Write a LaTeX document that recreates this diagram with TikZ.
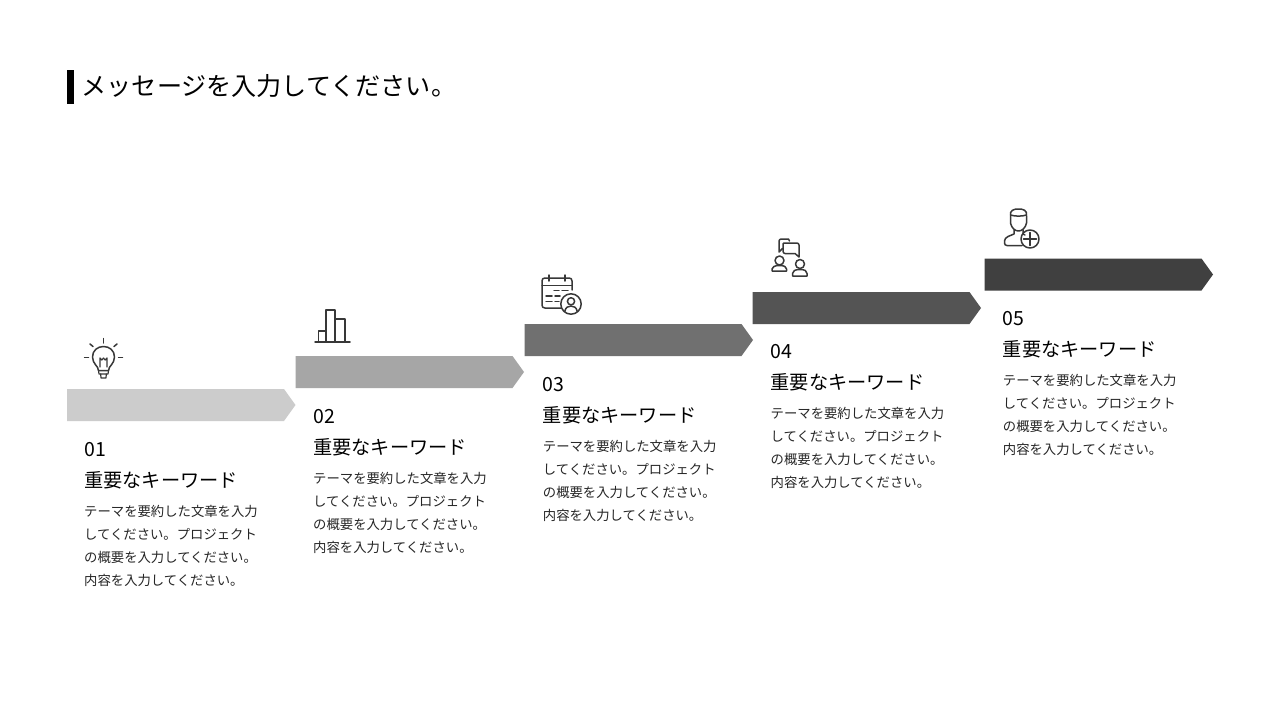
\documentclass[tikz,border=0pt]{standalone}
\usepackage{fontspec}
\setmainfont{Noto Sans CJK JP}[BoldFont={Noto Sans CJK JP}]
\setsansfont{Noto Sans CJK JP}
\tikzset{
  x=1pt,y=-1pt,
  titlebar/.style={fill=black,draw=none},
  titletext/.style={anchor=west,inner sep=0pt,font=\fontsize{25.1}{28}\selectfont,text=black},
  numtext/.style={anchor=west,inner sep=0pt,font=\fontsize{19.5}{22}\selectfont,text=black},
  keytext/.style={anchor=west,inner sep=0pt,font=\fontsize{19.2}{22}\selectfont,text=black},
  bodytext/.style={anchor=north west,inner sep=0pt,align=left,font=\fontsize{13.35}{23}\selectfont,text=black!85},
  iconline/.style={draw=black!78,line width=1.5pt,line join=round,line cap=round,fill=none},
  iconthin/.style={draw=black!78,line width=1.2pt,line join=round,line cap=round,fill=none},
}
\newcommand{\stepblock}[7]{% id, left x, top y, colour, number, reference y, text x
  \fill[#4] (#2,#3) -- ++(217,0) -- ++(11.5,16) -- ++(-11.5,16) -- ++(-217,0) -- cycle;
  \node[numtext] (num#1) at (#7,#6-61.5) {#5};
  \node[keytext] (key#1) at (#7,#6-31) {重要なキーワード};
  \node[bodytext] (body#1) at (#7,#6-6) {テーマを要約した文章を入力\\してください。プロジェクト\\の概要を入力してください。\\内容を入力してください。};
}
\begin{document}
\begin{tikzpicture}
\useasboundingbox (0,0) rectangle (1280,720);
\fill[white] (0,0) rectangle (1280,720);
\fill[titlebar] (67,70) rectangle (74,104);
\node[titletext] (title) at (81.5,86.5) {メッセージを入力してください。};
\stepblock{1}{67}{389}{black!20}{01}{511}{84}
\stepblock{2}{295.5}{356}{black!35}{02}{478}{313}
\stepblock{3}{524.5}{324}{black!56}{03}{446}{542.7}
\stepblock{4}{752.5}{292}{black!67}{04}{413.5}{770.5}
\stepblock{5}{984.5}{258.5}{black!75}{05}{380}{1002.7}
% bulb
\begin{scope}[shift={(103.5,358)}]
  \draw[iconline] (-5,12.5) .. controls (-5,8) and (-11,6) .. (-11,-1) .. controls (-11,-7.5) and (-6,-11.5) .. (0,-11.5) .. controls (6,-11.5) and (11,-7.5) .. (11,-1) .. controls (11,6) and (5,8) .. (5,12.5) -- cycle;
  \draw[iconthin] (-3.5,9) -- (-3.5,0) -- (-1.7,2) -- (0,0) -- (1.7,2) -- (3.5,0) -- (3.5,9);
  \draw[iconthin] (-5,12.5) -- (-4.5,16) -- (4.5,16) -- (5,12.5);
  \draw[iconthin] (-2.8,16) -- (-2.5,20) -- (2.5,20) -- (2.8,16);
  \draw[iconline] (0,-19.5) -- (0,-15);
  \draw[iconline] (-13.5,-14) -- (-10.5,-11.5);
  \draw[iconline] (13.5,-14) -- (10.5,-11.5);
  \draw[iconline] (-19,-0.5) -- (-15,-0.5);
  \draw[iconline] (19,-0.5) -- (15,-0.5);
\end{scope}
% chart
\begin{scope}[shift={(315,342)}]
  \draw[iconline] (0,0) -- (35,0);
  \draw[iconline] (3.5,0) -- (3.5,-11) -- (11,-11) -- (11,0);
  \draw[iconline] (11,-11) -- (11,-17.5);
  \draw[iconline] (11,-17.5) -- (11,-32) -- (20,-32) -- (20,0);
  \draw[iconline] (20,-23) -- (30,-23) -- (30,0);
\end{scope}
% calendar
\begin{scope}[shift={(542,275)}]
  \draw[iconline] (20,33) -- (3,33) .. controls (1,33) and (0,32) .. (0,30) -- (0,6) .. controls (0,4) and (1,3) .. (3,3) -- (27,3) .. controls (29,3) and (30,4) .. (30,6) -- (30,15);
  \draw[iconline] (0,10.5) -- (30,10.5);
  \draw[iconline] (7,0) -- (7,6);
  \draw[iconline] (23,0) -- (23,6);
  \draw[iconline] (12,15.5) -- (17,15.5) (20,15.5) -- (26,15.5);
  \draw[iconline] (4,21) -- (10,21) (13,21) -- (18,21);
  \draw[iconline] (4,26.5) -- (10,26.5) (13,26.5) -- (17,26.5);
  \fill[white] (29,29) circle (10.5);
  \draw[iconline] (29,29) circle (10.2);
  \draw[iconline] (29,26.3) circle (3.6);
  \draw[iconline] (22.7,36.5) .. controls (23.5,32.5) and (26,31) .. (29,31) .. controls (32,31) and (34.5,32.5) .. (35.3,36.5);
\end{scope}
% people and speech bubbles
\begin{scope}[shift={(771,238)}]
  \draw[iconline] (18.5,3) -- (17.5,1) -- (10,1) .. controls (9,1) and (8,2) .. (8,3) -- (8,14) -- (11.5,10.5);
  \draw[iconline] (13,5) -- (26,5) .. controls (27,5) and (28,6) .. (28,7) -- (28,19) -- (24,15.5) -- (14,15.5) .. controls (13,15.5) and (12,14.5) .. (12,13.5) -- (12,6) .. controls (12,5.5) and (12.5,5) .. (13,5) -- cycle;
  \draw[iconline] (8.5,22.5) circle (4.5);
  \draw[iconline] (1,33) -- (1,31) .. controls (1,29) and (3.5,27.5) .. (8.5,27.5) .. controls (13.5,27.5) and (15.5,29) .. (15.5,31) -- (15.5,33) -- cycle;
  \draw[iconline] (29,26) circle (4.5);
  \draw[iconline] (21.5,38) -- (21.5,35.5) .. controls (21.5,33) and (24,31.5) .. (29,31.5) .. controls (34,31.5) and (36,33) .. (36,35.5) -- (36,38) -- cycle;
\end{scope}
% person with plus
\begin{scope}[shift={(1004,208)}]
  \draw[iconline] (6.5,8) .. controls (5.5,2) and (10,1) .. (14.5,1) .. controls (19,1) and (23.5,2) .. (22.5,8) -- (22.5,15) .. controls (21.5,20) and (18,23) .. (14.5,23) .. controls (11,23) and (7.5,20) .. (6.5,15) -- cycle;
  \draw[iconline] (6.5,7) .. controls (11,8.5) and (18,8.5) .. (22.5,7);
  \draw[iconline] (10,22) -- (10,26) -- (4,28.5) .. controls (2,29.5) and (0.5,31) .. (0.5,33) -- (0.5,35) .. controls (0.5,36.5) and (1.5,37.5) .. (3,37.5) -- (18,37.5);
  \draw[iconline] (19,22) -- (19,26) -- (21,27);
  \draw[iconline] (26,31) circle (9);
  \draw[iconline] (26,24.5) -- (26,37.5) (19.5,31) -- (32.5,31);
\end{scope}
\end{tikzpicture}
\end{document}
